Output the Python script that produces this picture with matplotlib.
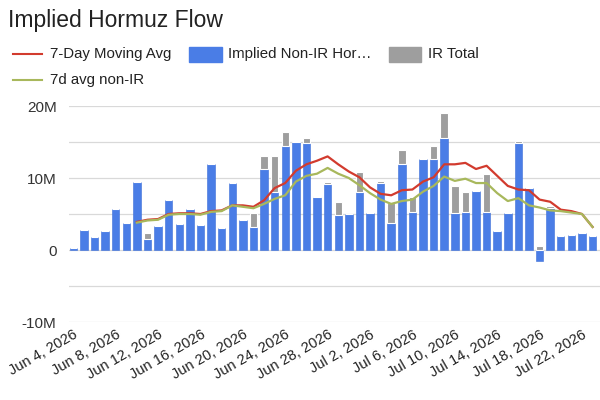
#!/usr/bin/env python3
"""Implied Hormuz Flow - stacked daily bars with 7-day averages."""

import datetime as dt

import matplotlib
matplotlib.use("Agg")
import matplotlib.pyplot as plt
from matplotlib.lines import Line2D
from matplotlib.patches import Rectangle
import numpy as np

plt.rcParams["font.family"] = ["Liberation Sans", "DejaVu Sans"]

# daily values, millions (Jun 4 .. Jul 23, 2026)
non_ir = [0.3, 2.8, 1.8, 2.7, 5.7, 3.8, 9.5, 1.5, 3.4, 6.9,
          3.6, 5.7, 3.5, 11.9, 3.0, 9.3, 4.2, 3.2, 11.2, 8.1,
          14.4, 15.0, 14.9, 7.3, 9.2, 4.8, 5.0, 8.1, 5.1, 9.3,
          3.8, 11.9, 5.3, 12.7, 12.7, 15.5, 5.1, 5.3, 8.2, 5.3,
          2.7, 5.2, 14.8, 8.6, -1.5, 5.9, 2.0, 2.1, 2.4, 1.9]
ir_total = [0, 0, 0, 0, 0, 0, 0, 0.8, 0, 0,
            0, 0, 0, 0, 0, 0, 0, 1.9, 1.9, 5.0,
            2.0, 0.2, 0.7, 0.2, 0.3, 1.9, 0, 2.7, 0, 0.3,
            2.7, 2.0, 2.0, 0, 1.7, 3.5, 3.8, 2.7, 0, 5.3,
            0, 0, 0.3, 0, 0.5, 0.2, 0, 0, 0, 0]
avg7 = [None] * 6 + [3.9, 4.2, 4.3, 5.0, 5.1, 5.1, 5.0, 5.4, 5.5, 6.2,
                     6.2, 6.0, 6.9, 8.6, 9.3, 11.0, 11.9, 12.4, 13.0, 11.9,
                     10.9, 10.1, 8.7, 7.8, 7.6, 8.3, 8.4, 9.5, 10.1, 11.9,
                     11.9, 12.1, 11.25, 11.7, 10.3, 8.9, 8.4, 8.3, 7.0, 6.7,
                     5.6, 5.4, 5.0, 3.2]
avg7_non_ir = [None] * 6 + [3.8, 4.1, 4.2, 4.9, 5.0, 5.0, 4.9, 5.3, 5.4, 6.2,
                            6.0, 5.8, 6.4, 7.1, 7.6, 9.5, 10.3, 10.6, 11.4, 10.6,
                            10.0, 9.0, 7.9, 7.0, 6.4, 6.8, 7.0, 8.1, 8.9, 10.2,
                            9.6, 9.9, 9.3, 9.3, 7.9, 6.8, 7.2, 6.2, 5.9, 5.5,
                            5.4, 5.2, 5.0, 3.2]

start = dt.date(2026, 6, 4)
dates = [start + dt.timedelta(days=i) for i in range(len(non_ir))]

BLUE = "#4a7de6"
GRAY = "#9e9e9e"
RED = "#d23b2e"
OLIVE = "#a8b85c"


def main():
    x = np.arange(len(dates))
    blue = np.array(non_ir)
    gray = np.array(ir_total)
    r = np.array([np.nan if v is None else v for v in avg7], dtype=float)
    o = np.array([np.nan if v is None else v for v in avg7_non_ir], dtype=float)

    fig = plt.figure(figsize=(6, 4), dpi=100)
    ax = fig.add_axes([0.115, 0.195, 0.885, 0.54])

    ax.bar(x, blue, width=0.7, color=BLUE, edgecolor="#3d6fd8", linewidth=0.4, zorder=2)
    gbottom = np.clip(blue, 0, None)
    ax.bar(x, gray, width=0.7, bottom=gbottom, color=GRAY, edgecolor="white",
           linewidth=0.8, zorder=2)
    ax.plot(x, r, color=RED, lw=1.6, zorder=3)
    ax.plot(x, o, color=OLIVE, lw=1.6, zorder=3)

    ax.set_xlim(-0.4, 49.7)
    ax.set_ylim(-10, 20)
    ax.set_yticks(np.arange(-10, 21, 5))
    ax.set_yticklabels(["-10M", "", "0", "", "10M", "", "20M"], fontsize=11, color="#333333")
    ax.yaxis.grid(True, color="#d9d9d9", lw=0.9, zorder=0)
    ax.tick_params(axis="y", length=0, pad=9)
    ax.tick_params(axis="x", length=0, pad=4)

    ticks = x[::4]
    ax.set_xticks(ticks)
    ax.set_xticklabels([f"{d:%b} {d.day}, {d.year}" for d in dates[::4]],
                       rotation=30, ha="right", rotation_mode="anchor",
                       fontsize=10.5, color="#222222")
    for s in ax.spines.values():
        s.set_visible(False)

    fig.text(0.013, 0.948, "Implied Hormuz Flow", fontsize=16.5, va="center", color="#222222")

    # legend
    fig.add_artist(Line2D([0.022, 0.07], [0.865, 0.865], color=RED, lw=1.5))
    fig.text(0.083, 0.865, "7-Day Moving Avg", fontsize=10.8, va="center", color="#222222")
    fig.add_artist(Rectangle((0.315, 0.845), 0.055, 0.038, color=BLUE, transform=fig.transFigure))
    fig.text(0.38, 0.865, "Implied Non-IR Hor\u2026", fontsize=10.8, va="center", color="#222222")
    fig.add_artist(Rectangle((0.648, 0.845), 0.053, 0.038, color=GRAY, transform=fig.transFigure))
    fig.text(0.713, 0.865, "IR Total", fontsize=10.8, va="center", color="#222222")
    fig.add_artist(Line2D([0.022, 0.07], [0.8, 0.8], color=OLIVE, lw=1.5))
    fig.text(0.083, 0.8, "7d avg non-IR", fontsize=10.8, va="center", color="#222222")

    fig.savefig("out.png", dpi=100)


if __name__ == "__main__":
    main()
